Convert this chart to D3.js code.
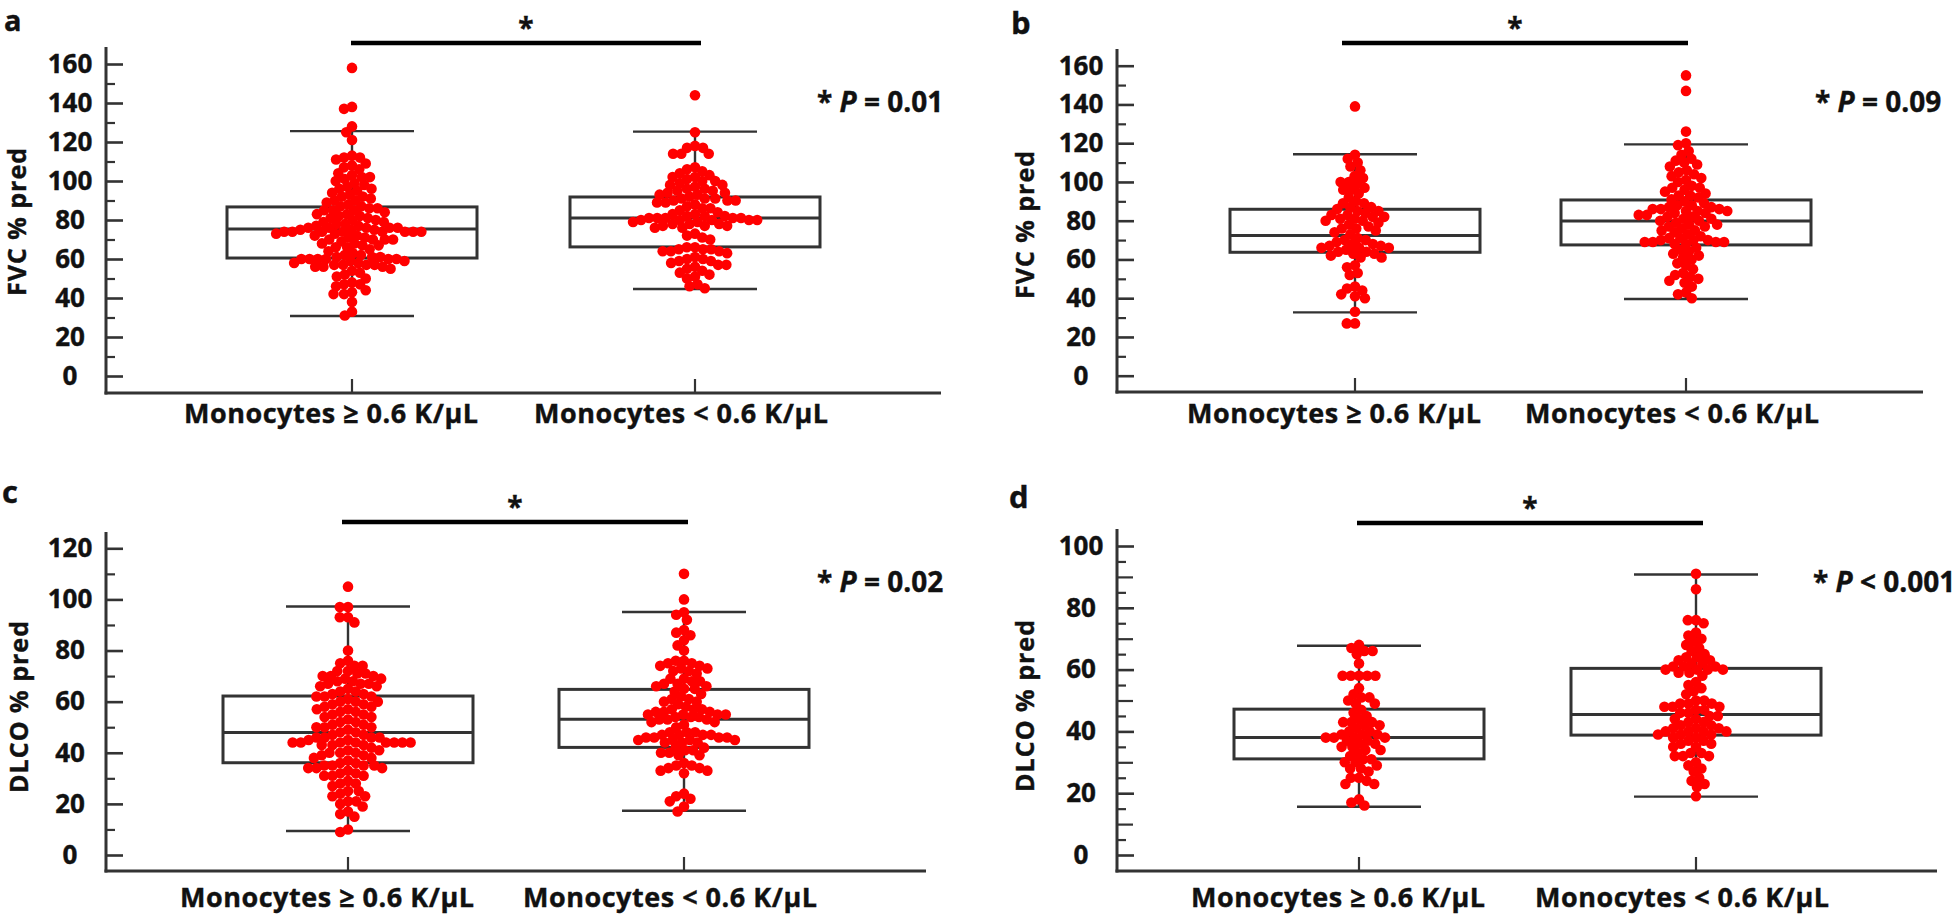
<!DOCTYPE html>
<html><head><meta charset="utf-8">
<script src="https://cdn.jsdelivr.net/npm/d3@7"></script>
<style>body{margin:0;background:#fff}svg{display:block}text{font-family:"Open Sans",Lato,sans-serif;font-weight:700;fill:#111;stroke:#111;stroke-width:0.4px}</style>
</head><body>
<svg id="chart" width="1960" height="916"></svg>
<script>
// ---------------- data ----------------
const categories = ["Monocytes \u2265 0.6 K/\u03BCL", "Monocytes < 0.6 K/\u03BCL"];
const panelLetters = ["a", "b", "c", "d"];
const yTitles = ["FVC % pred", "FVC % pred", "DLCO % pred", "DLCO % pred"];
const pSymbols = ["=", "=", "=", "<"];
const pValues = ["0.01", "0.09", "0.02", "0.001"];
const yTicksA = [0, 20, 40, 60, 80, 100, 120, 140, 160];
const yTicksB = [0, 20, 40, 60, 80, 100, 120, 140, 160];
const yTicksC = [0, 20, 40, 60, 80, 100, 120];
const yTicksD = [0, 20, 40, 60, 80, 100];

// panel a: FVC % pred
const fvcHighA = [158,138,137,128,125,121,113,112,112,111,109,108,107,106,104,103,102,102,101,
  100,99,98,97,96,96,95,94,93,92,92,91,90,90,89,88,87,87,86,86,85,85,85,
  84,83,83,82,82,81,81,80,80,79,79,78,78,77,77,76,76,76,76,76,
  75,75,75,74,74,74,74,74,74,74,74,
  73,73,72,72,71,71,70,70,70,70,69,68,68,67,67,66,66,65,
  64,63,62,62,61,61,61,60,60,60,60,60,60,59,59,58,58,57,57,57,57,56,56,56,55,
  54,53,52,51,50,48,47,47,46,44,43,42,42,38,33,31];
const fvcLowA = [144,125,118,117,117,114,114,114,107,106,105,104,103,102,102,101,100,100,99,98,98,
  97,96,96,95,95,94,94,93,93,92,91,91,91,90,90,90,89,89,88,87,86,86,85,84,
  83,83,82,82,82,81,81,81,81,81,80,80,80,80,80,79,79,78,78,78,77,77,77,76,76,
  73,72,71,70,66,66,65,65,65,64,64,64,63,61,60,60,59,59,58,57,57,56,55,
  54,53,52,51,50,47,46,45];
// panel b: FVC % pred
const fvcHighB = [139,114,112,110,108,106,103,102,100,100,99,97,96,96,94,92,90,89,89,
  87,87,86,85,85,84,83,83,82,82,81,81,80,80,79,78,77,76,76,75,74,73,
  71,70,70,69,68,68,67,67,66,66,66,65,64,64,63,63,62,61,61,
  57,56,53,52,46,45,44,42,41,40,33,27,27];
const fvcLowB = [155,147,126,120,119,116,114,112,111,110,109,108,106,105,104,103,102,101,100,
  98,97,97,96,95,94,93,93,92,91,90,89,88,88,87,87,86,86,86,85,85,85,84,84,83,83,82,82,81,81,80,80,
  79,78,78,77,77,76,75,75,74,73,72,71,71,70,70,70,69,69,69,69,68,68,
  66,65,64,63,62,61,60,58,57,55,53,52,51,50,49,48,46,43,42,40];
// panel c: DLCO % pred
const dlcoHighC = [105,97,97,93,93,91,80,76,75,74,74,
  72,72,71,71,70,70,70,69,69,68,68,67,67,67,66,66,65,64,64,63,63,62,62,62,61,
  60,60,60,59,59,58,58,57,57,56,56,55,55,54,54,53,52,52,51,51,50,50,50,
  49,48,48,47,47,46,46,46,46,45,45,44,44,44,44,44,44,44,44,43,43,43,42,
  41,41,40,40,40,39,39,38,38,37,36,36,35,35,35,35,34,34,34,33,
  32,32,31,31,31,29,28,28,27,25,25,24,23,23,21,21,20,19,17,16,15,10,9];
const dlcoLowC = [110,100,95,94,92,88,87,86,84,82,80,
  76,76,75,75,74,74,73,73,72,72,71,69,69,68,68,67,67,66,66,65,65,64,63,
  62,61,61,60,60,59,58,57,57,57,56,56,56,55,55,55,55,54,54,54,53,53,53,52,52,51,50,
  48,48,48,47,47,47,47,46,46,46,46,45,45,45,45,44,44,44,
  42,42,41,41,40,40,39,39,36,35,35,34,34,33,33,32,24,23,22,21,19,17];
// panel d: DLCO % pred
const dlcoHighD = [68,67,66,66,65,62,58,58,58,58,58,54,52,51,51,50,49,49,47,46,45,
  44,43,43,43,42,42,41,40,40,39,39,39,38,38,38,38,37,37,36,36,35,35,34,34,
  33,32,31,31,30,30,29,28,28,27,25,25,24,23,23,18,17,16];
const dlcoLowD = [91,86,76,76,75,72,71,70,69,68,67,66,65,64,64,63,63,62,62,61,61,61,
  60,60,60,60,59,59,58,56,55,54,53,52,50,50,49,49,49,48,48,48,47,47,46,46,45,45,44,44,
  43,43,42,42,41,41,41,40,40,40,40,39,39,39,38,38,37,37,36,36,35,35,
  33,33,32,32,32,30,29,28,27,25,24,23,22,19];

// box statistics: [lower whisker, Q1, median, Q3, upper whisker]
const boxA = [[30.8, 60.5, 75.4, 86.7, 125.6], [44.6, 66.2, 81.0, 91.8, 125.3]];
const boxB = [[32.7, 63.7, 72.3, 85.9, 114.3], [39.6, 67.5, 79.8, 90.7, 119.4]];
const boxC = [[9.4, 36.1, 47.9, 62.2, 97.2], [17.3, 42.1, 53.1, 64.8, 95.1]];
const boxD = [[15.6, 31.1, 38.0, 47.2, 67.7], [18.9, 38.8, 45.5, 60.4, 90.8]];

// ---------------- layout ----------------
const panels = [
  {series:[fvcHighA, fvcLowA], box:boxA, ticks:yTicksA, dom:[0,160], rng:[376,64], minor:[10], axX:106, axTop:47, axBot:393, xEnd:941, cx:[352,695],
   letter:[4,31], title:[26,222], titleLen:148, sig:[43,351,701], p:[817,112], lab:30},
  {series:[fvcHighB, fvcLowB], box:boxB, ticks:yTicksB, dom:[0,160], rng:[375.7,65.7], minor:[10], axX:1117, axTop:49, axBot:392, xEnd:1923, cx:[1355,1686],
   letter:[1011,34], title:[1034,225], titleLen:148, sig:[43,1342,1688], p:[1815,112], lab:31},
  {series:[dlcoHighC, dlcoLowC], box:boxC, ticks:yTicksC, dom:[0,120], rng:[855,548.3], minor:[10], axX:106, axTop:532, axBot:871, xEnd:926, cx:[348,684],
   letter:[2,503], title:[28,707], titleLen:172, sig:[522,342,688], p:[817,592], lab:36},
  {series:[dlcoHighD, dlcoLowD], box:boxD, ticks:yTicksD, dom:[0,100], rng:[855,546], minor:[10,5], axX:1117, axTop:529, axBot:871, xEnd:1937, cx:[1359,1696],
   letter:[1009,508], title:[1034,706], titleLen:172, sig:[523,1357,1703], p:[1813,592], lab:36}
];

const svg = d3.select("#chart");
const LINE = "#333";
const R = 5.3, D = 8.2;

function swarm(values, y, D) {
  const pts = values.map(v => ({v, y: y(v)})).sort((a, b) => a.y - b.y);
  const placed = [];
  for (const p of pts) {
    const iv = [];
    for (const q of placed) {
      const dy = Math.abs(q.y - p.y);
      if (dy < D) { const dx = Math.sqrt(D * D - dy * dy); iv.push([q.x - dx, q.x + dx]); }
    }
    const cands = [0];
    iv.forEach(([a, b]) => cands.push(a, b));
    cands.sort((a, b) => Math.abs(a) - Math.abs(b) || a - b);
    for (const c of cands) {
      if (iv.every(([a, b]) => c <= a + 1e-6 || c >= b - 1e-6)) { p.x = c; break; }
    }
    placed.push(p);
  }
  return placed;
}

panels.forEach((P, i) => {
  const g = svg.append("g");
  const y = d3.scaleLinear().domain(P.dom).range(P.rng);
  const x = d3.scalePoint().domain(categories).range(P.cx).padding(0);

  // axis lines
  g.append("line").attr("x1", P.axX).attr("x2", P.axX).attr("y1", P.axTop).attr("y2", P.axBot + 1.5)
    .attr("stroke", LINE).attr("stroke-width", 3);
  g.append("line").attr("x1", P.axX - 1.5).attr("x2", P.xEnd).attr("y1", P.axBot).attr("y2", P.axBot)
    .attr("stroke", LINE).attr("stroke-width", 3);

  // minor ticks
  const majorSet = new Set(P.ticks);
  P.minor.forEach((step, k) => {
    const vals = d3.range(P.dom[0], P.dom[1] + 0.001, step).filter(v => !majorSet.has(v) && (k === 0 || v % P.minor[0] !== 0));
    const len = (P.minor.length === 2 && k === 0) ? 16 : 9;
    g.append("g").attr("transform", `translate(${P.axX},0)`)
      .call(d3.axisLeft(y).tickValues(vals).tickSizeInner(-len).tickSizeOuter(0).tickFormat(""))
      .call(s => s.select(".domain").remove())
      .call(s => s.selectAll("line").attr("stroke", LINE).attr("stroke-width", 2.2));
  });
  // major ticks + labels
  g.append("g").attr("transform", `translate(${P.axX},0)`)
    .call(d3.axisLeft(y).tickValues(P.ticks).tickSizeInner(-17).tickSizeOuter(0).tickFormat(d3.format("d")))
    .call(s => s.select(".domain").remove())
    .call(s => s.selectAll("line").attr("stroke", LINE).attr("stroke-width", 2.6))
    .call(s => s.selectAll("text").attr("x", -36).attr("text-anchor", "middle")
      .attr("font-size", 26).attr("font-family", "Open Sans").attr("font-weight", 700).attr("fill", "#111"));

  // x category ticks and labels
  categories.forEach((c, j) => {
    g.append("line").attr("x1", x(c)).attr("x2", x(c)).attr("y1", P.axBot).attr("y2", P.axBot - 14)
      .attr("stroke", LINE).attr("stroke-width", 2.2);
    g.append("text").attr("x", x(c) + (j === 0 ? -21 : -14)).attr("y", P.axBot + P.lab)
      .attr("text-anchor", "middle").attr("font-size", 27)
      .attr("textLength", 294).attr("lengthAdjust", "spacing").text(c);
  });

  // y title
  g.append("text").attr("transform", `translate(${P.title[0]},${P.title[1]}) rotate(-90)`)
    .attr("text-anchor", "middle").attr("font-size", 25)
    .attr("textLength", P.titleLen).attr("lengthAdjust", "spacing").text(yTitles[i]);
  // panel letter
  g.append("text").attr("x", P.letter[0]).attr("y", P.letter[1]).attr("font-size", i === 0 ? 29 : 31).text(panelLetters[i]);

  // boxes
  const bw = 125, cw = 62;
  P.box.forEach((b, j) => {
    const cx = x(categories[j]);
    const bg = g.append("g").attr("stroke", LINE).attr("fill", "none");
    bg.append("line").attr("x1", cx).attr("x2", cx).attr("y1", y(b[4])).attr("y2", y(b[3])).attr("stroke-width", 2.4);
    bg.append("line").attr("x1", cx).attr("x2", cx).attr("y1", y(b[1])).attr("y2", y(b[0])).attr("stroke-width", 2.4);
    bg.append("line").attr("x1", cx - cw).attr("x2", cx + cw).attr("y1", y(b[4])).attr("y2", y(b[4])).attr("stroke-width", 2.4);
    bg.append("line").attr("x1", cx - cw).attr("x2", cx + cw).attr("y1", y(b[0])).attr("y2", y(b[0])).attr("stroke-width", 2.4);
    bg.append("rect").attr("x", cx - bw).attr("width", 2 * bw).attr("y", y(b[3])).attr("height", y(b[1]) - y(b[3])).attr("stroke-width", 3);
    bg.append("line").attr("x1", cx - bw).attr("x2", cx + bw).attr("y1", y(b[2])).attr("y2", y(b[2])).attr("stroke-width", 3);
  });

  // dots
  P.series.forEach((vals, j) => {
    const cx = x(categories[j]);
    const pts = swarm(vals, y, D);
    g.append("g").selectAll("circle").data(pts).join("circle")
      .attr("cx", d => cx + d.x).attr("cy", d => d.y).attr("r", R).attr("fill", "#ff0000");
  });

  // significance bar
  g.append("line").attr("x1", P.sig[1]).attr("x2", P.sig[2]).attr("y1", P.sig[0]).attr("y2", P.sig[0])
    .attr("stroke", "#000").attr("stroke-width", 4.5);
  g.append("text").attr("x", (P.sig[1] + P.sig[2]) / 2).attr("y", P.sig[0] - 5).attr("text-anchor", "middle")
    .attr("font-size", 28).text("*");

  // p-value text
  const t = g.append("text").attr("x", P.p[0]).attr("y", P.p[1]).attr("font-size", 28);
  t.append("tspan").text("* ");
  t.append("tspan").attr("font-style", "italic").text("P");
  t.append("tspan").text(` ${pSymbols[i]} ${pValues[i]}`);
});
</script>
</body></html>
